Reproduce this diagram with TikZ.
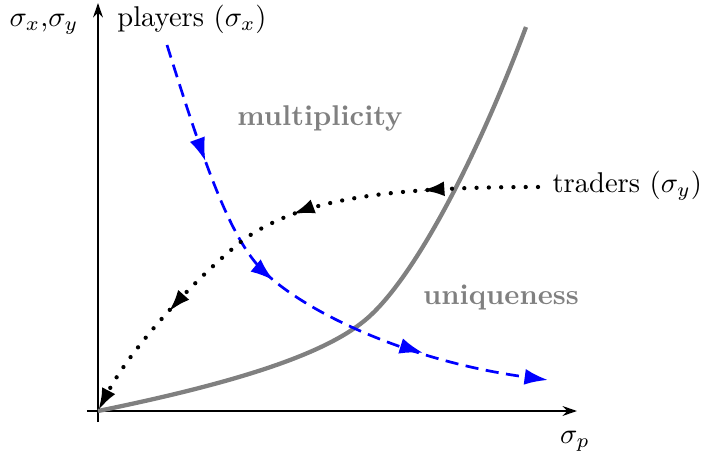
\documentclass[tikz,border=0pt]{standalone}
\usetikzlibrary{arrows.meta,decorations.markings}
\begin{document}
\begin{tikzpicture}[x=0.35pt,y=-0.35pt,
  axis/.style={line width=0.8pt,-{Stealth[length=5pt,width=3.4pt]}},
  lbl/.style={inner sep=0pt},
  region/.style={gray,font=\bfseries,inner sep=0pt},
  sepcurve/.style={gray,line width=1.5pt},
  midarrows/.style={decoration={markings,
      mark=at position 0.22 with {\arrow{#1}},
      mark=at position 0.47 with {\arrow{#1}},
      mark=at position 0.77 with {\arrow{#1}}},
    postaction={decorate}},
  playerpath/.style={blue,line width=0.95pt,dash pattern=on 4.6pt off 2.6pt,
    -{Latex[length=8.2pt,width=5.6pt]},
    midarrows={Latex[length=8.2pt,width=5.6pt]}},
  traderpath/.style={black,line width=1.5pt,line cap=round,
    dash pattern=on 0pt off 4.3pt,
    -{Latex[length=8pt,width=5.2pt]},
    midarrows={Latex[length=8pt,width=5.2pt]}}
]
\useasboundingbox (0,0) rectangle (702,462);

% axes
\coordinate (O) at (98,411);
\coordinate (ytop) at (98,3);
\coordinate (ybot) at (98,422);
\coordinate (xbeg) at (87,411);
\coordinate (xend) at (577,411);
\draw[axis] (ybot) -- (ytop);
\draw[axis] (xbeg) -- (xend);

% labels
\node[lbl,anchor=base] (ylab) at (44,26) {$\sigma_x$,$\sigma_y$};
\node[lbl,anchor=base] (plab) at (192,26) {players ($\sigma_x$)};
\node[lbl,anchor=base west] (tlab) at (552,192) {traders ($\sigma_y$)};
\node[lbl] (xlab) at (575,441) {$\sigma_p$};
\node[region] (mult) at (320,118) {multiplicity};
\node[region] (uniq) at (501,297) {uniqueness};

% separating curve
\coordinate (gtop) at (526,27);
\draw[sepcurve] (O) .. controls (250,380) and (335,350) .. (372,314)
  .. controls (420,268) and (480,150) .. (gtop);

% players path
\coordinate (pstart) at (167,45);
\coordinate (pend) at (548,380);
\draw[playerpath] (pstart) .. controls (200,150) and (225,225) .. (255,262)
  .. controls (290,305) and (400,360) .. (pend);

% traders path
\coordinate (tstart) at (538,187);
\draw[traderpath] (tstart) .. controls (380,187) and (300,200) .. (243,240)
  .. controls (190,283) and (130,350) .. (O);
\end{tikzpicture}
\end{document}
